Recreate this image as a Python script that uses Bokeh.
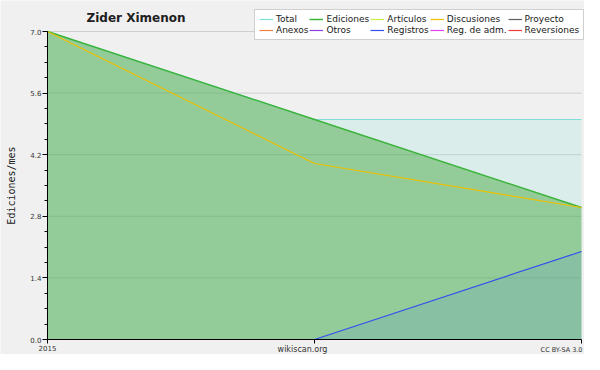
from bokeh.plotting import figure
from bokeh.models import (Range1d, FixedTicker, Legend, LegendItem, Label,
                          ColumnDataSource, PrintfTickFormatter)
from bokeh.embed import file_html
from bokeh.resources import INLINE

# ---- data ----
x_idx = [0, 1, 2]
x_labels = ["2015", "", ""]
total = [7.0, 5.0, 5.0]
ediciones = [7.0, 5.0, 3.0]
discusiones = [7.0, 4.0, 3.0]
registros = [0.0, 0.0, 2.0]
y_ticks = [0.0, 1.4, 2.8, 4.2, 5.6, 7.0]
y_minor = [round(0.35 * k, 2) for k in range(21)]

legend_names = ["Total", "Ediciones", "Artículos", "Discusiones", "Proyecto",
                "Anexos", "Otros", "Registros", "Reg. de adm.", "Reversiones"]
legend_colors = ["#80e0d8", "#3cb43c", "#c8f040", "#f0c000", "#606060",
                 "#f08040", "#9040e0", "#3250f0", "#e040f0", "#f03c3c"]

# ---- layout (pixels) ----
W, H = 584, 354
LEFT = 47             # canvas left edge to the y axis
RIGHT = 3             # last point to canvas right edge
TOP_PAD = 31          # canvas top to the y=7 line
BOTTOM_PAD = 15       # x axis to canvas bottom
Y_MAX = 7.0
X_MAX = 2.0
px_per_y = (H - TOP_PAD - BOTTOM_PAD) / Y_MAX
px_per_x = (W - LEFT - RIGHT) / X_MAX

src = ColumnDataSource(dict(x=x_idx, total=total, ediciones=ediciones,
                            discusiones=discusiones, registros=registros,
                            zero=[0.0] * len(x_idx)))

p = figure(width=W, height=H, output_backend="svg", toolbar_location=None,
           title=None,
           x_range=Range1d(-LEFT / px_per_x, X_MAX + RIGHT / px_per_x),
           y_range=Range1d(-BOTTOM_PAD / px_per_y, Y_MAX + TOP_PAD / px_per_y),
           min_border_left=0, min_border_right=0, min_border_top=0,
           min_border_bottom=0)
p.border_fill_color = "#f0f0f0"
p.background_fill_color = "#f0f0f0"
p.outline_line_color = None
p.xgrid.grid_line_color = None
p.ygrid.grid_line_color = None

# horizontal grid lines at the y ticks, spanning the data range only
p.segment(x0=[x_idx[0]] * len(y_ticks), x1=[x_idx[-1]] * len(y_ticks),
          y0=y_ticks, y1=y_ticks, line_color="#cfcfcf", line_width=1)

# fills
p.varea(x="x", y1="zero", y2="total", source=src, fill_color="#80e0d8", fill_alpha=0.2)
p.varea(x="x", y1="zero", y2="ediciones", source=src, fill_color="#3ca432", fill_alpha=0.45)
p.varea(x="x", y1="zero", y2="registros", source=src, fill_color="#3264ff", fill_alpha=0.11)

# lines
renderers = {}
renderers["Total"] = p.line(x="x", y="total", source=src, line_color="#80e0d8", line_width=1.2)
renderers["Ediciones"] = p.line(x="x", y="ediciones", source=src, line_color="#3cb43c", line_width=1.5)
renderers["Discusiones"] = p.line(x="x", y="discusiones", source=src, line_color="#f0c000", line_width=1.2)
renderers["Registros"] = p.line(x="x", y="registros", source=src, line_color="#3250f0", line_width=1.2)

nan = float("nan")
items = []
for name, col in zip(legend_names, legend_colors):
    r = renderers.get(name)
    if r is None:
        # series without edits: legend entry only, nothing plotted
        r = p.line(x=[0, 0], y=[nan, nan], line_color=col, line_width=1.2)
    items.append(LegendItem(label=name, renderers=[r]))

legend = Legend(items=items, orientation="horizontal", ncols=5,
                location=(254, H - 40), label_text_font="DejaVu Sans",
                label_text_font_size="9px", label_text_color="#202020",
                label_height=10, glyph_height=10, glyph_width=14,
                label_standoff=3, spacing=1, padding=4, margin=0,
                border_line_color="#a0a0a0", background_fill_color="white",
                background_fill_alpha=1.0)
p.add_layout(legend, "center")

# axes, drawn at the data origin
p.yaxis.fixed_location = 0
p.yaxis.ticker = FixedTicker(ticks=y_ticks, minor_ticks=y_minor)
p.yaxis.formatter = PrintfTickFormatter(format="%.1f")
p.yaxis.bounds = (0, Y_MAX)
p.yaxis.major_tick_out = 5
p.yaxis.major_tick_in = 0
p.yaxis.minor_tick_out = 3
p.yaxis.minor_tick_in = 0
p.yaxis.axis_label = "Ediciones/mes"
p.yaxis.axis_label_text_font = "DejaVu Sans Mono"
p.yaxis.axis_label_text_font_size = "10px"
p.yaxis.axis_label_text_font_style = "normal"
p.yaxis.axis_label_text_color = "#202020"
p.yaxis.axis_label_standoff = 10

p.xaxis.fixed_location = 0
p.xaxis.bounds = (0, X_MAX)
p.xaxis.ticker = FixedTicker(ticks=x_idx, minor_ticks=[])
p.xaxis.major_label_overrides = {i: lab for i, lab in zip(x_idx, x_labels)}
p.xaxis.major_tick_out = 4
p.xaxis.major_tick_in = 0
p.xaxis.minor_tick_out = 0

for ax in (p.xaxis, p.yaxis):
    ax.axis_line_color = "black"
    ax.major_tick_line_color = "black"
    ax.minor_tick_line_color = "black"
    ax.major_label_text_font = "DejaVu Sans"
    ax.major_label_text_font_size = "7px"
    ax.major_label_text_color = "#333333"
    ax.major_label_standoff = 1

# texts (frame-relative screen coordinates)
p.add_layout(Label(x=86, y=H - 17, x_units="screen", y_units="screen",
                   text="Zider Ximenon", text_font="DejaVu Sans", text_font_size="12px",
                   text_font_style="bold", text_baseline="middle", text_color="#202020"))
p.add_layout(Label(x=302, y=5, x_units="screen", y_units="screen",
                   text="wikiscan.org", text_font="DejaVu Sans", text_font_size="8px",
                   text_align="center", text_baseline="middle", text_color="#333333"))
p.add_layout(Label(x=W - 2, y=5, x_units="screen", y_units="screen",
                   text="CC BY-SA 3.0", text_font="DejaVu Sans", text_font_size="6.5px",
                   text_align="right", text_baseline="middle", text_color="#333333"))

open("out.html", "w").write(file_html(p, INLINE))
